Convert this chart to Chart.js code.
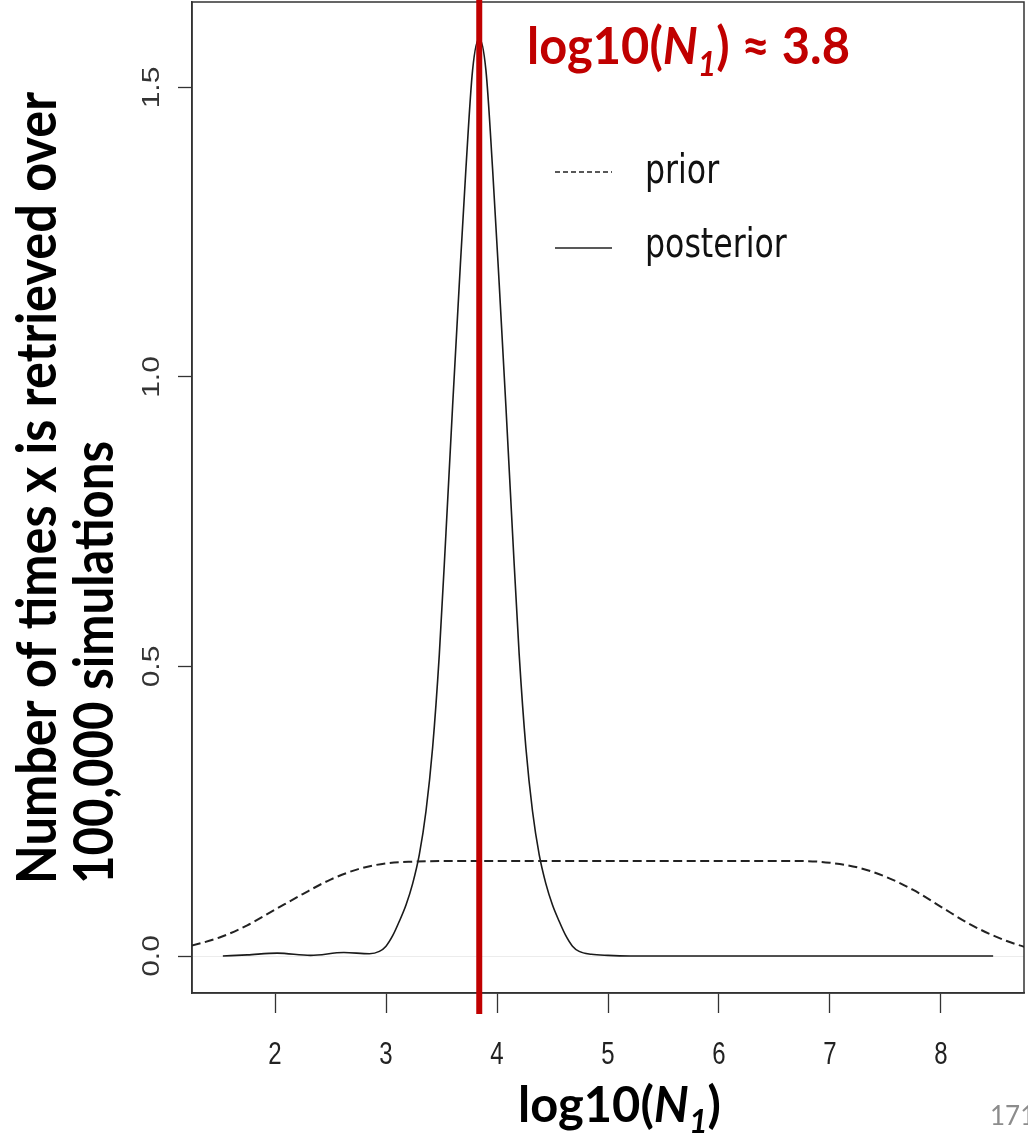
<!DOCTYPE html>
<html>
<head>
<meta charset="utf-8">
<script src="https://cdn.jsdelivr.net/npm/chart.js@4.4.1/dist/chart.umd.min.js"></script>
<style>
  html, body { margin: 0; padding: 0; background: #ffffff; }
  #wrap { width: 1028px; height: 1138px; position: relative; }
  canvas { display: block; }
</style>
</head>
<body>
<div id="wrap"><canvas id="c" width="1028" height="1138"></canvas></div>
<script>
// Kernel density of log10(N1): prior (dashed) and posterior (solid)
const priorX = [1.0, 1.25, 1.5, 1.75, 2.0, 2.25, 2.5, 2.75, 3.0, 3.25, 3.5, 4.0, 4.5, 5.0, 5.5, 6.0, 6.5, 6.75, 7.0, 7.25, 7.5, 7.75, 8.0, 8.25, 8.5, 8.75, 9.0];
const priorY = [0.008, 0.018, 0.032, 0.053, 0.080, 0.107, 0.132, 0.150, 0.160, 0.163, 0.164, 0.164, 0.164, 0.164, 0.164, 0.164, 0.164, 0.164, 0.161, 0.153, 0.137, 0.114, 0.085, 0.056, 0.033, 0.016, 0.007];

const posteriorX = [1.53, 1.75, 2.02, 2.32, 2.62, 2.85, 2.94, 3.00, 3.06, 3.12, 3.18, 3.24, 3.30, 3.36, 3.42, 3.48, 3.54, 3.60, 3.66, 3.72, 3.78, 3.84, 3.90, 3.96, 4.02, 4.08, 4.14, 4.20, 4.26, 4.32, 4.38, 4.44, 4.50, 4.56, 4.62, 4.68, 4.74, 4.85, 5.0, 5.2, 6.0, 7.0, 8.47];
const posteriorY = [0.000, 0.002, 0.005, 0.001, 0.006, 0.004, 0.008, 0.017, 0.035, 0.060, 0.088, 0.125, 0.175, 0.25, 0.36, 0.52, 0.73, 0.95, 1.16, 1.36, 1.53, 1.585, 1.53, 1.36, 1.16, 0.95, 0.73, 0.52, 0.36, 0.25, 0.175, 0.125, 0.088, 0.060, 0.035, 0.017, 0.008, 0.003, 0.001, 0, 0, 0, 0];

const xTickValues = [2, 3, 4, 5, 6, 7, 8];
const xTickLabels = ['2', '3', '4', '5', '6', '7', '8'];
const yTickValues = [0, 0.5, 1.0, 1.5];
const yTickLabels = ['0.0', '0.5', '1.0', '1.5'];
const seriesNames = ['prior', 'posterior'];
const pointEstimate = [3.84];

const xRange = [1.252, 8.748];
const yRange = [-0.0639, 1.6476];

const RED = '#C00000';
const TITLE_FONT = 'Lato, "Open Sans", "DejaVu Sans", sans-serif';
const AXIS_FONT = '"Liberation Sans", Arial, sans-serif';

function toPoints(xs, ys) { return xs.map((x, i) => ({ x: x, y: ys[i] })); }

// Draws a run of styled text pieces, squeezed/stretched to a given width
function drawRich(ctx, parts, x, y, targetWidth, angle) {
  let total = 0;
  parts.forEach(p => { ctx.font = p.font; p.w = ctx.measureText(p.t).width; total += p.w; });
  const s = targetWidth ? targetWidth / total : 1;
  ctx.save();
  ctx.translate(x, y);
  if (angle) ctx.rotate(angle);
  ctx.scale(s, 1);
  ctx.textAlign = 'left';
  ctx.textBaseline = 'alphabetic';
  let cx = 0;
  parts.forEach(p => { ctx.font = p.font; ctx.fillText(p.t, cx, p.dy || 0); cx += p.w; });
  ctx.restore();
}

const decorations = {
  id: 'decorations',
  beforeDatasetsDraw(chart) {
    const { ctx, chartArea: a } = chart;
    ctx.save();
    ctx.strokeStyle = '#333';
    ctx.lineWidth = 1.5;
    ctx.strokeRect(a.left, a.top, a.right - a.left, a.bottom - a.top);
    ctx.restore();
  },
  afterDatasetsDraw(chart) {
    const { ctx, chartArea: a } = chart;
    const xs = chart.scales.x;
    const px = xs.getPixelForValue(pointEstimate[0]);
    ctx.save();
    ctx.strokeStyle = RED;
    ctx.lineWidth = 6;
    ctx.beginPath();
    ctx.moveTo(px, 0);
    ctx.lineTo(px, a.bottom + 21);
    ctx.stroke();
    ctx.restore();
  },
  afterDraw(chart) {
    const { ctx } = chart;
    const xs = chart.scales.x, ys = chart.scales.y;

    // y tick labels, rotated
    ctx.save();
    ctx.fillStyle = '#333';
    ctx.font = '30px ' + AXIS_FONT;
    ctx.textAlign = 'center';
    ctx.textBaseline = 'alphabetic';
    yTickValues.forEach((v, i) => {
      const py = ys.getPixelForValue(v);
      ctx.save();
      ctx.translate(159, py);
      ctx.rotate(-Math.PI / 2);
      ctx.scale(1, 0.8);
      ctx.fillText(yTickLabels[i], 0, 0);
      ctx.restore();
    });
    // x tick labels
    ctx.font = '32px ' + AXIS_FONT;
    ctx.fillStyle = '#222';
    xTickValues.forEach((v, i) => {
      const px = xs.getPixelForValue(v);
      ctx.save();
      ctx.translate(px, 1064);
      ctx.scale(0.75, 1);
      ctx.fillText(xTickLabels[i], 0, 0);
      ctx.restore();
    });
    ctx.restore();

    // legend
    const ds = chart.data.datasets;
    const legendRows = [{ y: 172, base: 183 }, { y: 248, base: 257 }];
    ctx.save();
    ds.forEach((d, i) => {
      const r = legendRows[i];
      ctx.strokeStyle = '#222';
      ctx.lineWidth = 1.5;
      ctx.setLineDash(d.borderDash && d.borderDash.length ? [5, 3] : []);
      ctx.beginPath();
      ctx.moveTo(555, r.y);
      ctx.lineTo(612, r.y);
      ctx.stroke();
      ctx.setLineDash([]);
      ctx.save();
      ctx.translate(645, r.base);
      ctx.scale(0.79, 1);
      ctx.fillStyle = '#111';
      ctx.font = '40px "DejaVu Sans", sans-serif';
      ctx.textAlign = 'left';
      ctx.fillText(d.label, 0, 0);
      ctx.restore();
    });
    ctx.restore();

    // annotation for the point estimate
    ctx.save();
    ctx.fillStyle = RED;
    drawRich(ctx, [
      { t: 'log10(', font: 'bold 52px ' + TITLE_FONT },
      { t: 'N', font: 'italic bold 52px ' + TITLE_FONT },
      { t: '1', font: 'italic bold 34px ' + TITLE_FONT, dy: 12 },
      { t: ') \u2248 ' + pointEstimate[0].toFixed(1), font: 'bold 52px ' + TITLE_FONT }
    ], 527, 64, 323);
    ctx.restore();

    // axis titles
    ctx.save();
    ctx.fillStyle = '#000';
    drawRich(ctx, [
      { t: 'log10(', font: 'bold 50px ' + TITLE_FONT },
      { t: 'N', font: 'italic bold 50px ' + TITLE_FONT },
      { t: '1', font: 'italic bold 33px ' + TITLE_FONT, dy: 11 },
      { t: ')', font: 'bold 50px ' + TITLE_FONT }
    ], 518, 1122, 203);
    drawRich(ctx, [{ t: 'Number of times x is retrieved over', font: 'bold 56px ' + TITLE_FONT }], 56, 884, 792, -Math.PI / 2);
    drawRich(ctx, [{ t: '100,000 simulations', font: 'bold 56px ' + TITLE_FONT }], 113, 884, 443, -Math.PI / 2);
    ctx.restore();

    // slide number
    ctx.save();
    ctx.fillStyle = '#8c8c8c';
    ctx.font = '26px ' + TITLE_FONT;
    ctx.textAlign = 'left';
    ctx.fillText('171', 990, 1125);
    ctx.restore();
  }
};

new Chart(document.getElementById('c'), {
  type: 'line',
  data: {
    datasets: [
      {
        label: seriesNames[0],
        data: toPoints(priorX, priorY),
        borderColor: '#222',
        borderWidth: 2,
        borderDash: [9, 4.5],
        pointRadius: 0,
        cubicInterpolationMode: 'monotone',
        fill: false
      },
      {
        label: seriesNames[1],
        data: toPoints(posteriorX, posteriorY),
        borderColor: '#1a1a1a',
        borderWidth: 1.6,
        pointRadius: 0,
        cubicInterpolationMode: 'monotone',
        fill: false
      }
    ]
  },
  options: {
    responsive: false,
    animation: false,
    devicePixelRatio: 1,
    layout: { padding: { top: 2, right: 4, left: 0, bottom: 0 } },
    plugins: {
      legend: { display: false },
      title: { display: false },
      tooltip: { enabled: false }
    },
    scales: {
      x: {
        type: 'linear',
        min: xRange[0],
        max: xRange[1],
        afterBuildTicks(scale) { scale.ticks = xTickValues.map(v => ({ value: v })); },
        afterFit(scale) { scale.height = 145; },
        ticks: { display: false },
        grid: { drawOnChartArea: false, drawTicks: true, tickLength: 20, tickColor: '#333', tickWidth: 1.3 },
        border: { display: true, color: '#333', width: 1.5 }
      },
      y: {
        type: 'linear',
        min: yRange[0],
        max: yRange[1],
        afterBuildTicks(scale) { scale.ticks = yTickValues.map(v => ({ value: v })); },
        afterFit(scale) { scale.width = 192; },
        ticks: { display: false },
        grid: {
          drawTicks: true,
          tickLength: 14,
          tickColor: '#333',
          tickWidth: 1.3,
          lineWidth: 1,
          color: (c) => (c.tick && c.tick.value === 0 ? '#ececec' : 'rgba(0,0,0,0)')
        },
        border: { display: true, color: '#333', width: 1.5 }
      }
    }
  },
  plugins: [decorations]
});
</script>
</body>
</html>
